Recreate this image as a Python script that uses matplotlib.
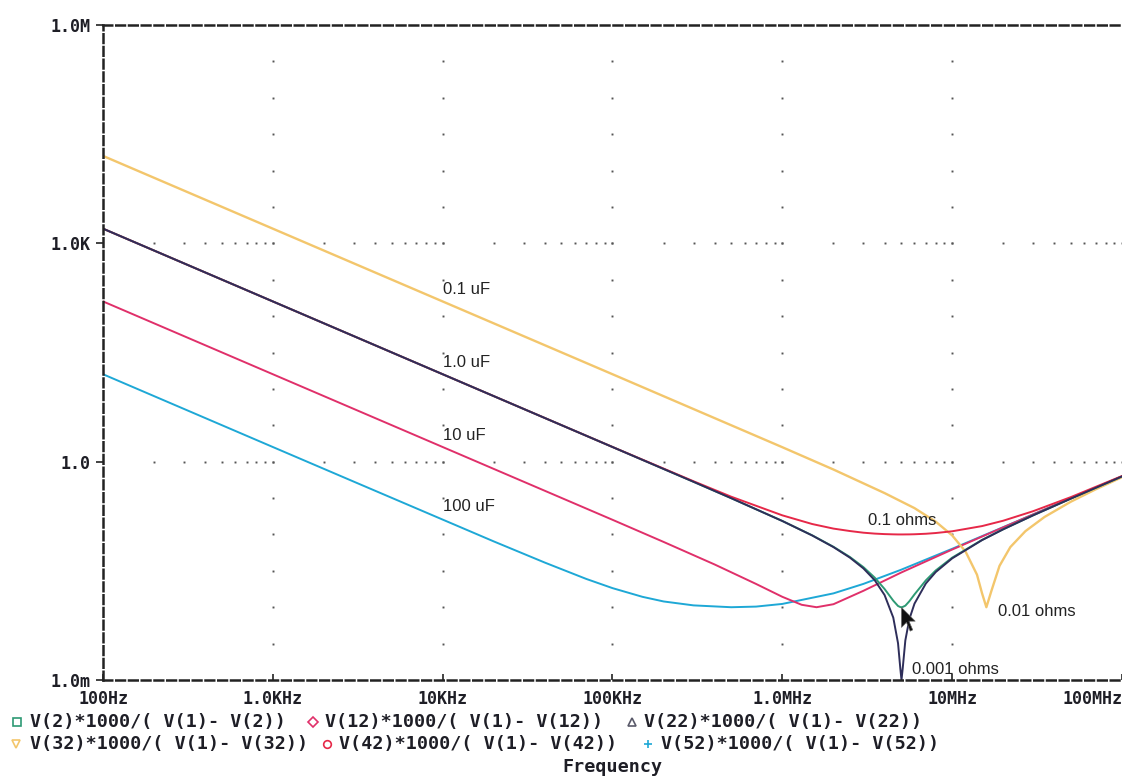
import numpy as np
import matplotlib
matplotlib.use("Agg")
import matplotlib.pyplot as plt
from matplotlib.path import Path

# capacitor impedance curves (ohms vs Hz)
f_01u = [100, 1e3, 1e4, 1e5, 1e6, 2e6, 4e6, 6e6, 8e6, 1e7, 1.2e7, 1.4e7, 1.5e7,
         1.59e7, 1.7e7, 1.9e7, 2.2e7, 2.7e7, 3.5e7, 5e7, 7e7, 1e8]
z_01u = [15900, 1590, 159, 15.9, 1.58, 0.78, 0.37, 0.23, 0.15, 0.097, 0.058, 0.028,
         0.0155, 0.010, 0.0166, 0.037, 0.067, 0.111, 0.174, 0.282, 0.417, 0.612]

f_1u = [100, 1e3, 1e4, 1e5, 3e5, 5e5, 1e6, 1.5e6, 2e6, 2.5e6, 3e6, 3.5e6, 4e6, 4.5e6,
        4.8e6, 4.95e6, 5.03e6, 5.12e6, 5.3e6, 5.6e6, 6e6, 7e6, 8e6, 1e7, 1.5e7, 2e7,
        3e7, 5e7, 1e8]
z_1u_001 = [1591, 159.1, 15.9, 1.59, 0.529, 0.315, 0.153, 0.0967, 0.067, 0.048, 0.0342,
            0.0235, 0.0147, 0.0072, 0.0032, 0.00145, 0.0010, 0.00148, 0.0035, 0.0069,
            0.0112, 0.0212, 0.0304, 0.0469, 0.0836, 0.1177, 0.1832, 0.311, 0.627]
z_1u_01 = [1591, 159.1, 15.9, 1.59, 0.529, 0.315, 0.1532, 0.0972, 0.0677, 0.049, 0.0356,
           0.0255, 0.0178, 0.0123, 0.0104, 0.01005, 0.0100, 0.0101, 0.0105, 0.0121,
           0.0150, 0.0234, 0.0320, 0.0480, 0.0842, 0.1181, 0.1835, 0.311, 0.627]
z_1u_1 = [1591, 159.1, 15.9, 1.593, 0.538, 0.330, 0.183, 0.139, 0.1203, 0.1114, 0.1057,
          0.1027, 0.1011, 0.1003, 0.1000, 0.1000, 0.1000, 0.1000, 0.1001, 0.1002,
          0.1006, 0.1022, 0.1046, 0.1105, 0.1303, 0.1545, 0.2088, 0.326, 0.635]

f_10u = [100, 1e3, 1e4, 1e5, 2e5, 4e5, 7e5, 1e6, 1.3e6, 1.59e6, 2e6, 3e6, 5e6, 1e7,
         2e7, 5e7, 1e8]
z_10u = [159.2, 15.9, 1.59, 0.159, 0.0789, 0.0386, 0.0209, 0.0139, 0.0108, 0.0100,
         0.0110, 0.0168, 0.0299, 0.0620, 0.1253, 0.314, 0.627]

f_100u = [100, 1e3, 3e3, 1e4, 2e4, 4e4, 7e4, 1e5, 1.5e5, 2e5, 3e5, 5e5, 7e5, 1e6, 2e6,
          3e6, 5e6, 1e7, 2e7, 5e7, 1e8]
z_100u = [15.9, 1.59, 0.531, 0.160, 0.0802, 0.0410, 0.0245, 0.0183, 0.0139, 0.0120,
          0.0106, 0.0100, 0.0102, 0.0111, 0.0155, 0.0209, 0.0327, 0.0635, 0.126, 0.314,
          0.627]

x_ticks = [1e2, 1e3, 1e4, 1e5, 1e6, 1e7, 1e8]
x_labels = ['100Hz', '1.0KHz', '10KHz', '100KHz', '1.0MHz', '10MHz', '100MHz']
y_ticks = [1e-3, 1, 1e3, 1e6]
y_labels = ['1.0m', '1.0', '1.0K', '1.0M']

# curve annotations (text, x, y in data units)
notes = [('0.1 uF', 1e4, 229), ('1.0 uF', 1e4, 23), ('10 uF', 1e4, 2.3),
         ('100 uF', 1e4, 0.24), ('0.1 ohms', 3.2e6, 0.155),
         ('0.01 ohms', 1.85e7, 0.0088), ('0.001 ohms', 5.8e6, 0.0014)]

YELLOW = '#f3c66c'
NAVY = '#2e2e5a'
PINK = '#e0306a'
RED = '#e62848'
CYAN = '#1ea8d6'
GREEN = '#2e9a74'
INK = '#1e1e26'

W, H = 1122, 777
fig = plt.figure(figsize=(W / 100, H / 100), dpi=100)
ax = fig.add_axes([103 / W, 1 - 680 / H, 1019 / W, 655 / H])
ax.set_xscale('log')
ax.set_yscale('log')
ax.set_xlim(1e2, 1e8)
ax.set_ylim(1e-3, 1e6)

#grid, drawn the way the old plotter does it: sparse dots
for xv in x_ticks[1:-1]:
    ys = 10 ** (np.arange(-5, 12) / 2)
    ax.plot([xv] * len(ys), ys, ls='none', marker='s', ms=1.4, color='#555', mew=0)
for yv in [1e3, 1]:
    xs = np.array([m * 10 ** d for d in range(2, 8) for m in range(2, 11)])
    ax.plot(xs, [yv] * len(xs), ls='none', marker='s', ms=1.4, color='#555', mew=0)

lw = 1.4
ax.plot(f_100u, z_100u, color=CYAN, lw=lw)
ax.plot(f_10u, z_10u, color=PINK, lw=lw)
ax.plot(f_01u, z_01u, color=YELLOW, lw=lw + 0.3)
ax.plot(f_1u, z_1u_01, color=GREEN, lw=lw)
ax.plot(f_1u, z_1u_1, color=RED, lw=lw)
ax.plot(f_1u, z_1u_001, color=NAVY, lw=lw)

for txt, xv, yv in notes:
    ax.text(xv, yv, txt, family='Liberation Sans', fontsize=12, color='#222',
            ha='left', va='center')

# mouse pointer left on the screen capture, tip at the green minimum
cursor = Path([(0, 0), (0, -16), (4, -12), (7, -19), (9, -18), (6, -11), (11, -11), (0, 0)],
              [Path.MOVETO] + [Path.LINETO] * 6 + [Path.CLOSEPOLY])
i_min = int(np.argmin(z_1u_01))
ax.plot(f_1u[i_min], z_1u_01[i_min], marker=cursor, ms=34, color='#111', mec='#666',
        mew=0.5, zorder=10)

for side in ['left', 'top', 'bottom']:
    ax.spines[side].set_linestyle((0, (3.5, 1.6)))
    ax.spines[side].set_linewidth(1.8)
    ax.spines[side].set_color('#222')
ax.spines['right'].set_visible(False)

tick_font = dict(family='DejaVu Sans Mono', weight='bold', size=12)
ax.set_xticks(x_ticks)
ax.set_xticklabels(x_labels, color=INK, **tick_font)
ax.set_yticks(y_ticks)
ax.set_yticklabels(y_labels, color=INK, **tick_font)
ax.minorticks_off()
ax.tick_params(axis='x', direction='in', length=4, width=1.2, pad=7, colors='#222')
ax.tick_params(axis='y', direction='out', length=5, width=1.2, pad=4, colors='#222')
ax.get_xticklabels()[-1].set_ha('right')
for lab in ax.get_xticklabels() + ax.get_yticklabels():
    lab.set_color(INK)

# legend rows under the plot, as PSpice prints them
leg_rows = [
    [('s', GREEN, 17, 30, 'V(2)*1000/( V(1)- V(2))'),
     ('D', PINK, 313, 325, 'V(12)*1000/( V(1)- V(12))'),
     ('^', '#5a5a6a', 632, 644, 'V(22)*1000/( V(1)- V(22))')],
    [('v', YELLOW, 16, 30, 'V(32)*1000/( V(1)- V(32))'),
     ('o', RED, 327, 339, 'V(42)*1000/( V(1)- V(42))'),
     ('+', CYAN, 648, 661, 'V(52)*1000/( V(1)- V(52))')],
]
row_y = [722, 744]
leg_font = dict(family='DejaVu Sans Mono', weight='bold', size=13.2)
for row, py in zip(leg_rows, row_y):
    for mk, col, mx, tx, txt in row:
        fig.add_artist(plt.Line2D([mx / W], [1 - py / H], marker=mk, ms=5.5, mfc='none',
                                  mec=col, mew=1.2, ls='none',
                                  transform=fig.transFigure))
        fig.text(tx / W, 1 - py / H, txt, color=INK, ha='left', va='center', **leg_font)
fig.text(612 / W, 1 - 767 / H, 'Frequency', color=INK, ha='center', va='center', **leg_font)

fig.savefig('out.png', dpi=100, facecolor='white')
